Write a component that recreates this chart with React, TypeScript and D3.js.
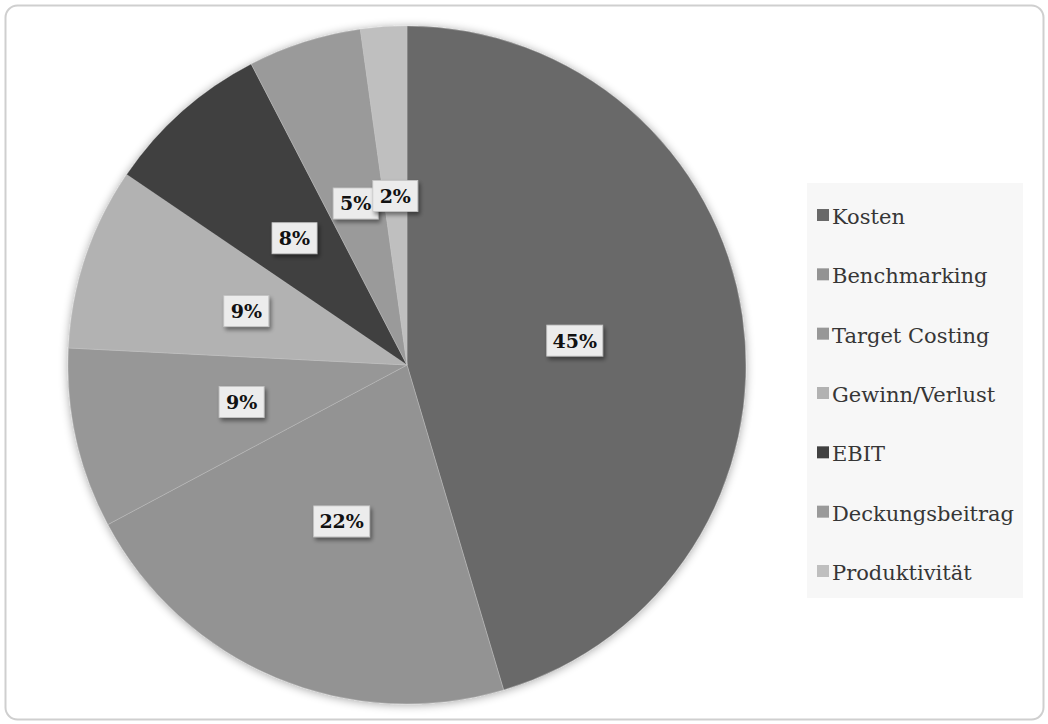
import React from "react";
import * as d3 from "d3";

const categories = ["Kosten", "Benchmarking", "Target Costing", "Gewinn/Verlust", "EBIT", "Deckungsbeitrag", "Produktivität"];
const values = [45.4, 21.8, 8.6, 8.7, 7.9, 5.4, 2.2];
const labels = ["45%", "22%", "9%", "9%", "8%", "5%", "2%"];
const colors = ["#696969", "#939393", "#979797", "#b2b2b2", "#404040", "#9a9a9a", "#bfbfbf"];

const W = 1048, H = 724;
const cx = 407, cy = 365, R = 339;
const SERIF = "\"DejaVu Serif\", serif";

export default function App() {
  const pie = d3.pie<number>().sort(null).value((d) => d)(values);
  const arc = d3.arc<d3.PieArcDatum<number>>().innerRadius(0).outerRadius(R);
  const lab = d3.arc<d3.PieArcDatum<number>>().innerRadius(0).outerRadius(R);
  const legendY = d3.scalePoint<string>().domain(categories).range([224, 580]);
  return (
    <svg width={W} height={H} style={{ position: "absolute", left: 0, top: 0 }}>
      <defs>
        <filter id="pshadow" x="-20%" y="-20%" width="140%" height="140%">
          <feGaussianBlur in="SourceAlpha" stdDeviation="5" />
          <feOffset dx="0" dy="1" result="b" />
          <feComponentTransfer><feFuncA type="linear" slope="0.35" /></feComponentTransfer>
          <feMerge><feMergeNode /><feMergeNode in="SourceGraphic" /></feMerge>
        </filter>
        <filter id="lshadow" x="-30%" y="-30%" width="160%" height="170%">
          <feGaussianBlur in="SourceAlpha" stdDeviation="2" />
          <feOffset dx="2" dy="3" result="b" />
          <feComponentTransfer><feFuncA type="linear" slope="0.45" /></feComponentTransfer>
          <feMerge><feMergeNode /><feMergeNode in="SourceGraphic" /></feMerge>
        </filter>
      </defs>
      <rect x={5.5} y={5.5} width={1038} height={714} rx={12} fill="#ffffff" stroke="#cfcfcf" strokeWidth={2} />
      <g transform={`translate(${cx},${cy})`}>
        <g filter="url(#pshadow)">
          {pie.map((d, i) => (
            <path key={i} d={arc(d) || ""} fill={colors[i]} stroke="#c8c8c8" strokeWidth={0.4} />
          ))}
        </g>
        {pie.map((d, i) => {
          const [x, y] = lab.centroid(d);
          const w = labels[i].length === 3 ? 56 : 45;
          return (
            <g key={"l" + i} transform={`translate(${x},${y})`}>
              <rect x={-w / 2} y={-15.5} width={w} height={31} fill="#ececec" stroke="#c4c4c4" strokeWidth={0.8} filter="url(#lshadow)" />
              <text x={0} y={7} textAnchor="middle" fontFamily={SERIF} fontWeight="bold" fontSize={19} fill="#111">
                {labels[i]}
              </text>
            </g>
          );
        })}
      </g>
      <rect x={807} y={183} width={216} height={415} fill="#f7f7f7" />
      {categories.map((c, i) => {
        const y = legendY(c) as number;
        return (
          <g key={"g" + i}>
            <rect x={817} y={y - 15} width={12} height={12} fill={colors[i]} />
            <text x={832} y={y} fontFamily={SERIF} fontSize={21} fill="#363636">
              {c}
            </text>
          </g>
        );
      })}
    </svg>
  );
}
